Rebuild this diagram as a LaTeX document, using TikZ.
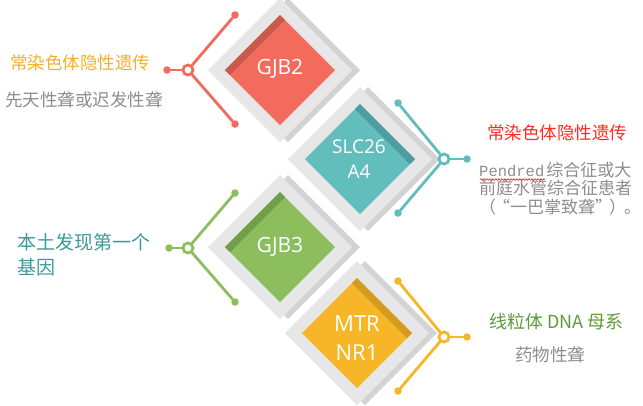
\documentclass[tikz,border=0pt]{standalone}
\usepackage{fontspec}
\setmainfont{Open Sans}
\newfontfamily\cjk{Noto Sans CJK SC}
\newfontfamily\mono{Liberation Mono}
\usetikzlibrary{decorations.pathmorphing}

\definecolor{redc}{HTML}{F26B5C}
\definecolor{redd}{HTML}{C95A4F}
\definecolor{tealc}{HTML}{62BDBD}
\definecolor{teald}{HTML}{4E9C9C}
\definecolor{greenc}{HTML}{8CBE5E}
\definecolor{greend}{HTML}{729E4A}
\definecolor{yellowc}{HTML}{F6B627}
\definecolor{yellowd}{HTML}{D39B21}
\definecolor{framel}{HTML}{E7E7E7}
\definecolor{framed}{HTML}{D3D3D3}
\definecolor{graytext}{HTML}{8E8E8E}
\definecolor{orangetext}{HTML}{F5B02A}
\definecolor{redtext}{HTML}{FF2B1F}
\definecolor{tealtext}{HTML}{3D9A9B}
\definecolor{greentext}{HTML}{5E9A3B}

\tikzset{
  ring/.style={circle, draw=#1, fill=white, line width=2.8pt, inner sep=0pt, minimum size=10pt},
  dot/.style={circle, fill=#1, inner sep=0pt, minimum size=7.5pt},
  arm/.style={draw=#1, line width=2.8pt},
  gene/.style={text=white, align=center, inner sep=0pt},
  note/.style={anchor=west, inner sep=0pt, align=left}
}

\begin{document}
\begin{tikzpicture}[x=1pt, y=-1pt]
  \path[use as bounding box, fill=white] (0,0) rectangle (643,405);

  % GJB2
  \begin{scope}[shift={(280,70)}]
    \fill[framed] (-64,0) -- (8,-72) -- (80,0) -- (8,72) -- cycle;
    \fill[framel] (-72,0) -- (0,-72) -- (72,0) -- (0,72) -- cycle;
    \fill[redc] (-55,0) -- (0,-55) -- (55,0) -- (0,55) -- cycle;
    \fill[redd] (-55,0) -- (0,-55) -- (5,-50) -- (-50,5) -- cycle;
    \node[gene, font=\fontsize{21}{25}\selectfont] (gjb2) at (0,-1) {GJB2};
  \end{scope}

  % SLC26A4
  \begin{scope}[shift={(360,159)}]
    \fill[framed] (-64,0) -- (8,-72) -- (80,0) -- (8,72) -- cycle;
    \fill[framel] (-72,0) -- (0,-72) -- (72,0) -- (0,72) -- cycle;
    \fill[tealc] (-55,0) -- (0,-55) -- (55,0) -- (0,55) -- cycle;
    \fill[teald] (0,-55) -- (55,0) -- (50,5) -- (-5,-50) -- cycle;
    \node[gene, font=\fontsize{19}{25}\selectfont] (slc) at (-1,0) {SLC26\\A4};
  \end{scope}

  % GJB3
  \begin{scope}[shift={(280,247)}]
    \fill[framed] (-64,0) -- (8,-72) -- (80,0) -- (8,72) -- cycle;
    \fill[framel] (-72,0) -- (0,-72) -- (72,0) -- (0,72) -- cycle;
    \fill[greenc] (-55,0) -- (0,-55) -- (55,0) -- (0,55) -- cycle;
    \fill[greend] (-55,0) -- (0,-55) -- (5,-50) -- (-50,5) -- cycle;
    \node[gene, font=\fontsize{21}{25}\selectfont] (gjb3) at (0,0) {GJB3};
  \end{scope}

  % MTRNR1
  \begin{scope}[shift={(357,333)}]
    \fill[framed] (-64,0) -- (8,-72) -- (80,0) -- (8,72) -- cycle;
    \fill[framel] (-72,0) -- (0,-72) -- (72,0) -- (0,72) -- cycle;
    \fill[yellowc] (-55,0) -- (0,-55) -- (55,0) -- (0,55) -- cycle;
    \fill[yellowd] (0,-55) -- (55,0) -- (50,5) -- (-5,-50) -- cycle;
    \node[gene, font=\fontsize{22}{29}\selectfont] (mtr) at (0,5) {MTR\\NR1};
  \end{scope}

  % connectors
  \node[ring=redc] (r1) at (188,70) {};
  \node[dot=redc] (r1s) at (167,70) {};
  \node[dot=redc] (r1u) at (235,15) {};
  \node[dot=redc] (r1d) at (235,124) {};

  \node[ring=tealc] (r2) at (444,159) {};
  \node[dot=tealc] (r2s) at (467,159) {};
  \node[dot=tealc] (r2u) at (398,103) {};
  \node[dot=tealc] (r2d) at (398,213) {};

  \node[ring=greenc] (r3) at (188,248) {};
  \node[dot=greenc] (r3s) at (169,248) {};
  \node[dot=greenc] (r3u) at (235,193) {};
  \node[dot=greenc] (r3d) at (235,302) {};

  \node[ring=yellowc] (r4) at (444,337) {};
  \node[dot=yellowc] (r4s) at (467,337) {};
  \node[dot=yellowc] (r4u) at (398,281) {};
  \node[dot=yellowc] (r4d) at (398,391) {};

  \begin{scope}[line cap=round]
    \draw[arm=redc] (r1) -- (r1s);
    \draw[arm=redc] (r1) -- (r1u);
    \draw[arm=redc] (r1) -- (r1d);
    \draw[arm=tealc] (r2) -- (r2s);
    \draw[arm=tealc] (r2) -- (r2u);
    \draw[arm=tealc] (r2) -- (r2d);
    \draw[arm=greenc] (r3) -- (r3s);
    \draw[arm=greenc] (r3) -- (r3u);
    \draw[arm=greenc] (r3) -- (r3d);
    \draw[arm=yellowc] (r4) -- (r4s);
    \draw[arm=yellowc] (r4) -- (r4u);
    \draw[arm=yellowc] (r4) -- (r4d);
  \end{scope}

  % texts
  \node[note, text=orangetext, font=\cjk\fontsize{17.5}{20}\selectfont] (t1a) at (10,63) {常染色体隐性遗传};
  \node[note, text=graytext, font=\cjk\fontsize{17.5}{20}\selectfont] (t1b) at (5,100) {先天性聋或迟发性聋};

  \node[note, text=redtext, font=\cjk\fontsize{17.5}{20}\selectfont] (t2a) at (487,133) {常染色体隐性遗传};
  \node[note, text=graytext, font=\cjk\fontsize{17}{18.5}\selectfont] (t2b) at (479,188.5)
    {{\mono\fontsize{15.5}{18.5}\selectfont Pendred}\kern2pt 综合征或大\\前庭水管综合征患者\\（\kern-3pt“一巴掌致聋”\kern-3pt）\kern-2pt。};
  \draw[red, line width=0.6pt, decorate, decoration={snake, amplitude=0.8pt, segment length=3pt}]
    (480,179.5) -- (545,179.5);

  \node[note, text=tealtext, font=\cjk\fontsize{19}{25}\selectfont] (t3) at (17,254.5) {本土发现第一个\\基因};

  \node[note, text=greentext, font=\cjk\fontsize{18}{20}\selectfont] (t4a) at (489,322) {线粒体 DNA 母系};
  \node[note, text=graytext, font=\cjk\fontsize{17.5}{20}\selectfont] (t4b) at (515,355) {药物性聋};
\end{tikzpicture}
\end{document}
